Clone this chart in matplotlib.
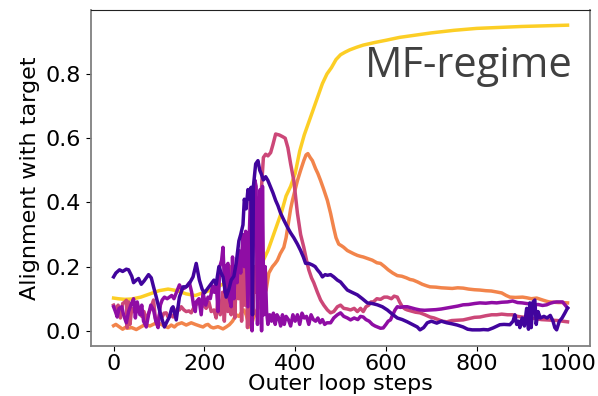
import numpy as np
import matplotlib
matplotlib.use("Agg")
import matplotlib.pyplot as plt

# run 1 (darkest)
steps_1 = [0, 5, 13, 20, 28, 33, 40, 44, 50, 55, 61, 67, 77, 83, 88, 94, 101, 107, 112, 118,
           123, 128, 131, 138, 145, 153, 160, 168, 175, 182, 189, 195, 200, 210, 221, 226, 232, 237, 241, 248,
           254, 259, 265, 270, 276, 280, 285, 288, 292, 296, 300, 303, 306, 308, 313, 318, 322, 325, 330, 335,
           340, 346, 351, 357, 362, 368, 375, 384, 390, 397, 405, 412, 418, 423, 430, 438, 444, 449, 455, 460,
           466, 471, 478, 485, 493, 500, 507, 515, 525, 537, 548, 559, 570, 581, 592, 603, 614, 625, 636, 647,
           658, 669, 675, 683, 691, 700, 712, 722, 734, 745, 757, 770, 780, 790, 800, 807, 815, 825, 836, 845,
           851, 860, 873, 880, 884, 888, 892, 895, 900, 905, 910, 914, 917, 920, 924, 928, 931, 935, 940, 948,
           955, 962, 968, 972, 976, 982, 988, 994, 1000]
vals_1 = [0.168, 0.18, 0.19, 0.185, 0.192, 0.19, 0.17, 0.15, 0.158, 0.163, 0.145, 0.155, 0.175, 0.165, 0.137, 0.105, 0.065, 0.035, 0.012, 0.03,
          0.043, 0.07, 0.075, 0.034, 0.105, 0.137, 0.137, 0.15, 0.168, 0.21, 0.158, 0.13, 0.118, 0.137, 0.158, 0.145, 0.2, 0.18, 0.168, 0.105,
          0.13, 0.158, 0.17, 0.21, 0.28, 0.3, 0.33, 0.41, 0.38, 0.44, 0.41, 0.447, 0.05, 0.45, 0.52, 0.53, 0.5, 0.49, 0.47, 0.48,
          0.468, 0.447, 0.43, 0.406, 0.39, 0.366, 0.345, 0.32, 0.305, 0.29, 0.27, 0.25, 0.23, 0.21, 0.21, 0.205, 0.2, 0.19, 0.18, 0.168,
          0.175, 0.173, 0.175, 0.168, 0.158, 0.152, 0.14, 0.127, 0.12, 0.112, 0.1, 0.087, 0.085, 0.081, 0.075, 0.065, 0.052, 0.04, 0.035, 0.028,
          0.02, 0.012, 0.003, 0.01, 0.025, 0.03, 0.024, 0.03, 0.025, 0.022, 0.018, 0.012, 0.005, 0.003, 0.003, 0.003, 0.004, 0.003, 0.009, 0.015,
          0.019, 0.02, 0.019, 0.03, 0.05, 0.02, 0.03, 0.01, 0.04, 0.015, 0.07, 0.005, 0.087, 0.01, 0.09, 0.096, 0.02, 0.06, 0.04, 0.045,
          0.04, 0.048, 0.03, 0.01, 0.003, 0.03, 0.04, 0.055, 0.071]

# run 2
steps_2 = [0, 4, 8, 12, 18, 22, 28, 33, 38, 44, 48, 52, 58, 62, 66, 72, 77, 82, 88, 93,
           98, 103, 107, 112, 118, 123, 128, 133, 138, 145, 150, 156, 162, 167, 172, 176, 180, 182, 188, 193,
           197, 203, 208, 213, 218, 222, 226, 230, 234, 238, 241, 245, 248, 252, 255, 259, 262, 265, 268, 272,
           276, 280, 285, 288, 291, 294, 296, 299, 302, 305, 308, 311, 314, 317, 320, 323, 326, 328, 331, 334,
           337, 340, 344, 348, 352, 356, 360, 364, 368, 372, 376, 380, 385, 390, 395, 400, 405, 410, 415, 420,
           425, 430, 435, 440, 445, 450, 455, 460, 465, 470, 478, 485, 493, 500, 507, 515, 522, 530, 538, 544,
           550, 556, 563, 570, 576, 581, 588, 594, 600, 605, 610, 615, 620, 625, 632, 639, 647, 655, 665, 675,
           685, 697, 710, 722, 734, 746, 758, 770, 782, 795, 807, 820, 833, 844, 855, 868, 879, 890, 900, 910,
           917, 925, 935, 945, 954, 962, 970, 976, 983, 989, 995, 1000]
vals_2 = [0.075, 0.06, 0.043, 0.07, 0.075, 0.05, 0.025, 0.06, 0.08, 0.1, 0.04, 0.09, 0.05, 0.08, 0.03, 0.012, 0.05, 0.08, 0.065, 0.03,
          0.01, 0.08, 0.096, 0.105, 0.1, 0.105, 0.11, 0.1, 0.118, 0.143, 0.13, 0.133, 0.14, 0.15, 0.12, 0.08, 0.06, 0.09, 0.1, 0.05,
          0.118, 0.08, 0.105, 0.1, 0.14, 0.12, 0.15, 0.06, 0.2, 0.22, 0.26, 0.12, 0.2, 0.21, 0.1, 0.075, 0.23, 0.1, 0.2, 0.15,
          0.25, 0.18, 0.3, 0.2, 0.31, 0.17, 0.075, 0.3, 0.44, 0.0, 0.3, 0.47, 0.45, 0.02, 0.38, 0.44, 0.0, 0.45, 0.05, 0.2,
          0.06, 0.02, 0.05, 0.03, 0.055, 0.02, 0.05, 0.04, 0.015, 0.05, 0.02, 0.045, 0.035, 0.015, 0.05, 0.03, 0.05, 0.02, 0.055, 0.04,
          0.045, 0.02, 0.05, 0.035, 0.03, 0.04, 0.025, 0.035, 0.02, 0.025, 0.025, 0.04, 0.05, 0.056, 0.045, 0.04, 0.034, 0.04, 0.035, 0.045,
          0.043, 0.035, 0.03, 0.02, 0.015, 0.012, 0.008, 0.009, 0.02, 0.03, 0.034, 0.05, 0.065, 0.075, 0.073, 0.075, 0.075, 0.072, 0.068, 0.065,
          0.064, 0.065, 0.066, 0.068, 0.071, 0.074, 0.077, 0.081, 0.082, 0.085, 0.087, 0.086, 0.088, 0.087, 0.089, 0.09, 0.093, 0.088, 0.087, 0.085,
          0.084, 0.08, 0.082, 0.079, 0.081, 0.086, 0.089, 0.09, 0.09, 0.09, 0.08, 0.071]

# run 3
steps_3 = [0, 5, 10, 15, 20, 25, 28, 30, 33, 36, 40, 45, 50, 57, 62, 67, 72, 77, 82, 88,
           92, 96, 101, 106, 111, 116, 120, 126, 131, 136, 141, 145, 149, 155, 160, 166, 171, 176, 181, 187,
           193, 198, 204, 210, 215, 221, 226, 230, 235, 240, 244, 248, 252, 256, 259, 263, 267, 271, 275, 279,
           282, 286, 289, 292, 295, 298, 301, 304, 307, 310, 313, 317, 320, 323, 326, 330, 335, 340, 346, 351,
           357, 365, 372, 378, 384, 390, 397, 405, 412, 419, 425, 430, 436, 441, 449, 456, 463, 471, 478, 485,
           493, 500, 507, 515, 522, 530, 537, 544, 550, 556, 562, 567, 572, 580, 588, 596, 603, 612, 618, 625,
           630, 636, 642, 647, 655, 665, 675, 686, 697, 706, 715, 724, 734, 745, 757, 770, 782, 795, 807, 820,
           833, 844, 855, 868, 879, 890, 900, 917, 930, 942, 954, 966, 978, 990, 1000]
vals_3 = [0.08, 0.065, 0.08, 0.04, 0.085, 0.09, 0.095, 0.01, 0.09, 0.02, 0.07, 0.06, 0.075, 0.065, 0.045, 0.06, 0.03, 0.055, 0.07, 0.096,
          0.04, 0.02, 0.05, 0.04, 0.055, 0.056, 0.043, 0.05, 0.043, 0.06, 0.07, 0.065, 0.075, 0.065, 0.06, 0.062, 0.056, 0.07, 0.08, 0.09,
          0.096, 0.08, 0.07, 0.09, 0.06, 0.065, 0.04, 0.1, 0.05, 0.12, 0.03, 0.15, 0.06, 0.2, 0.05, 0.18, 0.04, 0.2, 0.1, 0.22,
          0.03, 0.25, 0.08, 0.28, 0.01, 0.22, 0.02, 0.18, 0.05, 0.2, 0.12, 0.26, 0.15, 0.3, 0.45, 0.54, 0.55, 0.545, 0.555, 0.58,
          0.613, 0.61, 0.605, 0.6, 0.57, 0.52, 0.468, 0.366, 0.3, 0.26, 0.22, 0.19, 0.165, 0.15, 0.12, 0.096, 0.08, 0.065, 0.056, 0.06,
          0.075, 0.08, 0.07, 0.068, 0.065, 0.07, 0.06, 0.07, 0.06, 0.075, 0.08, 0.09, 0.09, 0.1, 0.098, 0.105, 0.105, 0.1, 0.108, 0.105,
          0.09, 0.075, 0.068, 0.065, 0.062, 0.058, 0.056, 0.05, 0.043, 0.04, 0.035, 0.03, 0.028, 0.032, 0.033, 0.034, 0.038, 0.042, 0.043, 0.047,
          0.05, 0.05, 0.052, 0.05, 0.05, 0.045, 0.043, 0.04, 0.038, 0.035, 0.034, 0.033, 0.032, 0.03, 0.028]

# run 4
steps_4 = [0, 5, 10, 15, 20, 25, 30, 40, 50, 60, 70, 80, 90, 98, 105, 112, 120, 127, 134, 140,
           150, 160, 171, 180, 190, 197, 203, 208, 214, 220, 230, 241, 248, 255, 262, 270, 276, 282, 287, 292,
           296, 302, 308, 314, 320, 325, 330, 336, 342, 350, 356, 361, 367, 375, 380, 386, 390, 394, 400, 405,
           412, 419, 424, 428, 433, 438, 445, 450, 456, 463, 471, 478, 485, 490, 496, 502, 507, 515, 522, 529,
           537, 544, 550, 560, 570, 580, 588, 597, 605, 615, 625, 635, 645, 653, 660, 670, 680, 690, 697, 710,
           722, 734, 746, 758, 770, 782, 795, 807, 820, 832, 844, 855, 865, 873, 885, 901, 910, 920, 932, 945,
           954, 960, 970, 980, 990, 1000]
vals_4 = [0.016, 0.02, 0.015, 0.01, 0.005, 0.01, 0.008, 0.01, 0.004, 0.012, 0.02, 0.015, 0.022, 0.025, 0.02, 0.015, 0.01, 0.018, 0.012, 0.02,
          0.025, 0.018, 0.025, 0.02, 0.015, 0.012, 0.018, 0.02, 0.012, 0.009, 0.013, 0.006, 0.012, 0.019, 0.03, 0.05, 0.045, 0.058, 0.065, 0.05,
          0.03, 0.01, 0.04, 0.06, 0.075, 0.087, 0.11, 0.127, 0.18, 0.2, 0.21, 0.22, 0.24, 0.26, 0.29, 0.344, 0.38, 0.406, 0.44, 0.468,
          0.5, 0.53, 0.548, 0.552, 0.54, 0.53, 0.505, 0.49, 0.468, 0.44, 0.406, 0.366, 0.32, 0.29, 0.27, 0.265, 0.26, 0.25, 0.245, 0.24,
          0.235, 0.232, 0.23, 0.225, 0.22, 0.212, 0.21, 0.2, 0.19, 0.18, 0.172, 0.17, 0.165, 0.16, 0.158, 0.152, 0.145, 0.14, 0.137, 0.136,
          0.134, 0.133, 0.132, 0.134, 0.133, 0.13, 0.128, 0.127, 0.125, 0.124, 0.121, 0.118, 0.11, 0.105, 0.104, 0.105, 0.103, 0.1, 0.102, 0.096,
          0.092, 0.09, 0.089, 0.088, 0.088, 0.087]

# run 5 (yellow)
steps_5 = [0, 10, 25, 40, 60, 80, 100, 120, 140, 160, 180, 200, 220, 240, 260, 280, 300, 320, 330, 340,
           350, 360, 370, 380, 390, 400, 410, 420, 430, 440, 450, 460, 470, 480, 490, 500, 510, 520, 535, 550,
           575, 600, 630, 650, 675, 700, 750, 800, 850, 900, 950, 1000]
vals_5 = [0.102, 0.1, 0.098, 0.099, 0.105, 0.115, 0.125, 0.13, 0.125, 0.115, 0.11, 0.12, 0.13, 0.145, 0.16, 0.175, 0.19, 0.205, 0.22, 0.25,
          0.29, 0.33, 0.37, 0.42, 0.45, 0.49, 0.56, 0.61, 0.65, 0.69, 0.73, 0.77, 0.8, 0.82, 0.845, 0.86, 0.868, 0.875, 0.883, 0.89,
          0.898, 0.905, 0.914, 0.918, 0.923, 0.928, 0.936, 0.942, 0.945, 0.948, 0.95, 0.952]

runs = [(steps_1, vals_1), (steps_2, vals_2), (steps_3, vals_3), (steps_4, vals_4), (steps_5, vals_5)]
colors = plt.cm.plasma(np.linspace(0.1, 0.9, len(runs)))

fig = plt.figure(figsize=(5.98, 3.96), dpi=100)
ax = fig.add_axes([0.152, 0.126, 0.835, 0.849])

# yellow drawn first, darkest on top
for (s, v), c in reversed(list(zip(runs, colors))):
    ax.plot(s, v, color=c, lw=2.5)

ax.set_xticks([0, 200, 400, 600, 800, 1000])
ax.set_yticks([0.0, 0.2, 0.4, 0.6, 0.8])
ax.tick_params(labelsize=16)
ax.tick_params(axis="x", pad=2)
ax.set_xlabel("Outer loop steps", fontsize=16, labelpad=0)
ax.set_ylabel("Alignment with target", fontsize=16)

for side in ["left", "right", "bottom"]:
    ax.spines[side].set_color("#808080")
    ax.spines[side].set_linewidth(1.3)
ax.spines["top"].set_color("#222222")

ax.text(0.965, 0.8, "MF-regime", transform=ax.transAxes, ha="right", va="baseline",
        fontsize=30, color="#404040", family="Open Sans")

fig.savefig("out.png", dpi=100)
